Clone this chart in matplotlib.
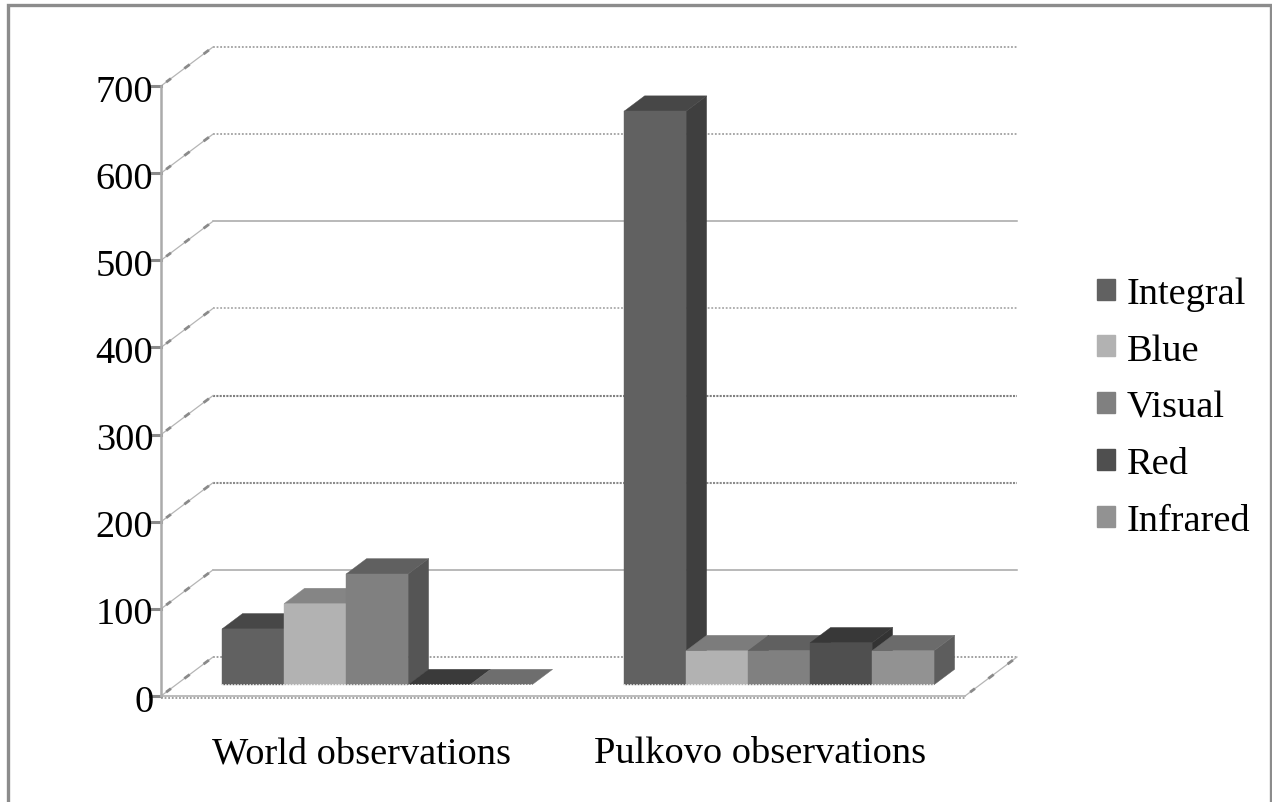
import matplotlib
matplotlib.use("Agg")
import matplotlib.pyplot as plt
from matplotlib.patches import Patch, Polygon

plt.rcParams['font.family'] = ['Liberation Serif', 'DejaVu Serif']

# data
categories = ["World observations", "Pulkovo observations"]
series = ["Integral", "Blue", "Visual", "Red", "Infrared"]
world = [64, 93, 127, 0, 0]
pulkovo = [658, 39, 39, 48, 39]
y_ticks = [0, 100, 200, 300, 400, 500, 600, 700]

# colours: front, top, side
front_col = ["#616161", "#b2b2b2", "#808080", "#4f4f4f", "#929292"]
top_col = [["#474747", "#858585", "#606060", "#3a3a3a", "#6e6e6e"],
           ["#474747", "#7c7c7c", "#606060", "#383838", "#6b6b6b"]]
side_col = ["#3f3f3f", "#555555", "#555555", "#333333", "#5d5d5d"]

# grid line style for each level, the picture is not consistent about them
grid_ls = [(0, (1, 1)), '-', (0, (1, 0.6)), (0, (1, 0.6)), (0, (1, 1)), '-', (0, (1, 1)), (0, (1, 1))]
grid_col = ["#999999", "#a6a6a6", "#8c8c8c", "#808080", "#aaaaaa", "#a6a6a6", "#a0a0a0", "#a0a0a0"]
grid_lw = [1.3, 1.1, 1.5, 1.5, 1.3, 1.1, 1.3, 1.3]

fig = plt.figure(figsize=(12.72, 8.03), dpi=100, facecolor="white")
ax = fig.add_axes([0, 0, 1, 1])
ax.set_xlim(-0.4005, 2.7637)
ax.set_ylim(-121.6, 799.8)
ax.axis("off")

# depth of the fake 3d, in data units
dx = 52 / 402
dy = 44.75
bar_w = 62 / 402
z0, z1 = 0.29, 0.685
blobs = [(0.12, 0.17), (0.47, 0.53), (0.84, 0.90)]
font_size = 27.6


def proj(x, v, z):
    return (x + z * dx, v + z * dy)


def face(pts, col, zo):
    ax.add_patch(Polygon(pts, closed=True, facecolor=col, edgecolor=col, lw=0.3, zorder=zo))


# walls
for i, v in enumerate(y_ticks):
    ax.plot([dx, 2 + dx], [v + dy, v + dy], color=grid_col[i], lw=grid_lw[i], ls=grid_ls[i], zorder=1)
    ax.plot([0, dx], [v, v + dy], color="#b5b5b5", lw=0.9, zorder=1)
    for a, b in blobs:
        ax.plot([a * dx, b * dx], [v + a * dy, v + b * dy], color="#8a8a8a", lw=2.0, zorder=1)
    ax.plot([-0.028, 0], [v, v], color="#8a8a8a", lw=2.2, zorder=2)
    ax.text(-0.019, v - 1.5, str(v), ha="right", va="center_baseline", fontsize=font_size, color="black")

ax.plot([0, 0], [0, 700], color="#ababab", lw=1.8, zorder=2)
ax.plot([0, 2], [0, 0], color="#b0b0b0", lw=1.2, zorder=2)
ax.plot([0, 2], [-2.5, -2.5], color="#999999", lw=1.3, ls=(0, (1, 1)), zorder=2)
ax.plot([2, 2 + dx], [0, dy], color="#b5b5b5", lw=0.9, zorder=1)
for a, b in blobs:
    ax.plot([2 + a * dx, 2 + b * dx], [a * dy, b * dy], color="#8a8a8a", lw=2.0, zorder=1)

# bars
zo = 3
for c, vals in enumerate([world, pulkovo]):
    start = c + 0.5 - 2.5 * bar_w
    for i, v in enumerate(vals):
        x0 = start + i * bar_w
        x1 = x0 + bar_w
        if v > 0:
            face([proj(x1, 0, z0), proj(x1, 0, z1), proj(x1, v, z1), proj(x1, v, z0)], side_col[i], zo)
        face([proj(x0, v, z0), proj(x1, v, z0), proj(x1, v, z1), proj(x0, v, z1)], top_col[c][i], zo + 1)
        if v > 0:
            face([proj(x0, 0, z0), proj(x1, 0, z0), proj(x1, v, z0), proj(x0, v, z0)], front_col[i], zo + 2)
        zo += 3
    # scalloped bottom edge of the bars
    bx, by = proj(start, 0, z0)
    ax.plot([bx, bx + 5 * bar_w], [by, by], color="white", lw=1.1, ls=(0, (1, 1)), zorder=zo)
    zo += 1

for c, name in enumerate(categories):
    ax.text(c + 0.5 - (0.0 if c == 0 else 0.01), -65.5, name, ha="center", va="center", fontsize=font_size, color="black")

handles = [Patch(facecolor=col, edgecolor=col, label=s) for col, s in zip(front_col, series)]
ax.legend(handles=handles, loc="center left", bbox_to_anchor=(1097 / 1272, 1 - 408 / 803), frameon=False,
          fontsize=font_size, handlelength=0.47, handleheight=0.47, handletextpad=0.3,
          labelspacing=0.58, borderpad=0, borderaxespad=0)

# outer frame of the picture, no bottom edge
ax.plot([8 / 1272, 8 / 1272, 1270.5 / 1272, 1270.5 / 1272], [0, 1 - 6 / 803, 1 - 6 / 803, 0],
        transform=ax.transAxes, color="#8c8c8c", lw=2.4, solid_joinstyle="miter", zorder=50, clip_on=False)

fig.savefig("out.png", dpi=100)
